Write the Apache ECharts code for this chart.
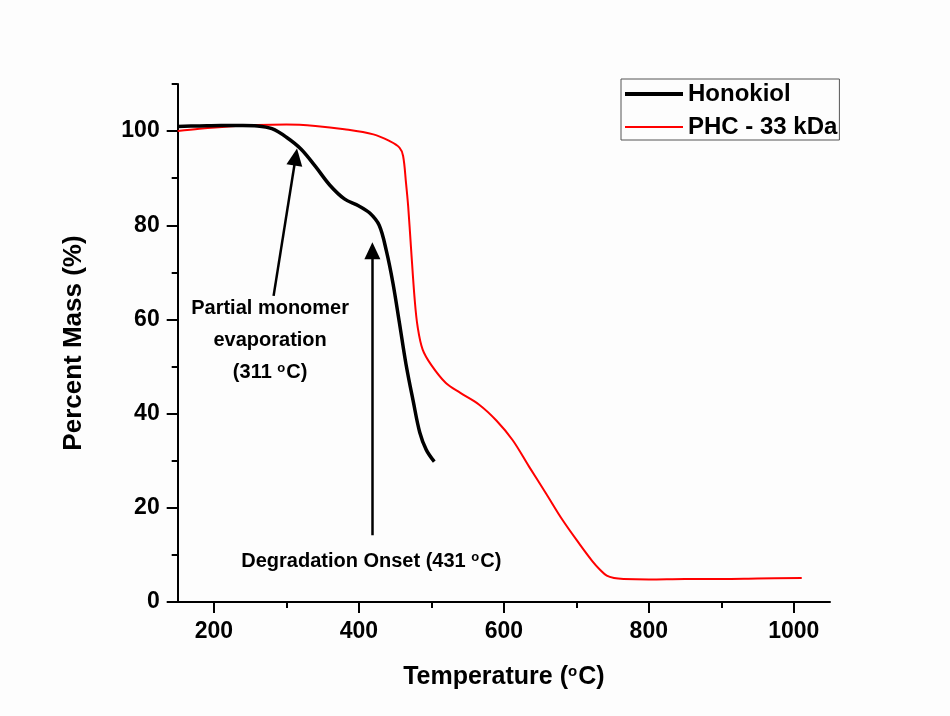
<!DOCTYPE html>
<html>
<head>
<meta charset="utf-8">
<script src="https://cdn.jsdelivr.net/npm/echarts@6/dist/echarts.min.js"></script>
<style>
html,body{margin:0;padding:0;background:#fdfdfd;}
#main{width:950px;height:716px;}
</style>
</head>
<body>
<div id="main"></div>
<script>
// ---- data ----
var honokiolT = [150,180,210,240,260,280,300,320,340,360,380,400,415,428,438,447,456,465,475,484,493,504];
var honokiolMass = [101.0,101.1,101.2,101.2,101.1,100.5,98.7,96.2,92.5,88.5,85.6,84.1,82.6,80.0,74.5,67.7,59.2,50.5,42.6,36.0,32.3,29.8];
var phcT = [150,180,220,260,300,340,380,420,442,456,461,465,468,472,477,481,488,500,520,540,566,590,612,635,658,681,704,722,733,742,752,765,800,850,900,950,1011];
var phcMass = [100.0,100.5,101.0,101.3,101.4,101.1,100.4,99.3,97.9,96.5,94.7,89.0,84.0,75.0,64.2,58.5,53.6,50.3,46.5,44.4,41.9,38.5,34.4,28.7,23.1,17.4,12.4,8.7,6.8,5.6,5.1,4.9,4.8,4.9,4.9,5.0,5.1];
var seriesNames = ['Honokiol', 'PHC - 33 kDa'];
var xMajorTicks = [200,400,600,800,1000];
var xMinorTicks = [300,500,700,900];
var yMajorTicks = [0,20,40,60,80,100];
var yMinorTicks = [10,30,50,70,90,110];
// annotations (data coordinates)
var arrow1 = [[282.3,65.0],[312.8,94.5]];
var arrow2 = [[418.6,14.2],[418.6,74.6]];
var note1Pos = [277.5,55.5];
var note2Pos = [417.1,8.5];

function zip(a,b){var r=[];for(var i=0;i<a.length;i++)r.push([a[i],b[i]]);return r;}

var FONT = '"Liberation Sans", Arial, sans-serif';
var chart = echarts.init(document.getElementById('main'), null, {renderer:'canvas'});
var gridPos = {left:177.7, right:120, top:84, bottom:114};
var supRich = {
  sup:{fontSize:13, fontWeight:'bold', fontFamily:FONT, color:'#000', padding:[0,1,9,0]}
};
var plainNum = function(v){return String(v);};

var option = {
  backgroundColor:'#fdfdfd',
  animation:false,
  grid:[Object.assign({}, gridPos), Object.assign({}, gridPos)],
  legend:{
    data:[
      {name:seriesNames[0], lineStyle:{color:'#000', width:4}},
      {name:seriesNames[1], lineStyle:{color:'#ff0000', width:2}}
    ],
    orient:'vertical',
    left:621, top:79,
    padding:[3,2,1,2],
    itemWidth:58, itemHeight:14, itemGap:9,
    itemStyle:{opacity:0, color:'rgba(0,0,0,0)', borderWidth:0},
    borderColor:'#555', borderWidth:1,
    textStyle:{fontSize:24, fontWeight:'bold', fontFamily:FONT, color:'#000'}
  },
  xAxis:[{
    type:'value', gridIndex:0, min:150, max:1050,
    name:'Temperature ({sup|o}C)', nameLocation:'middle', nameGap:62,
    nameTextStyle:{fontSize:25, fontWeight:'bold', fontFamily:FONT, color:'#000', rich:{sup:{fontSize:15,fontWeight:'bold',fontFamily:FONT,color:'#000',padding:[0,1,12,0]}}},
    axisLine:{lineStyle:{color:'#000', width:2}},
    axisTick:{inside:false, length:11, lineStyle:{color:'#000', width:2}, customValues:xMajorTicks},
    axisLabel:{customValues:xMajorTicks, formatter:plainNum, margin:18, fontSize:23, fontWeight:'bold', fontFamily:FONT, color:'#000'},
    splitLine:{show:false}
  },{
    type:'value', gridIndex:1, min:150, max:1050,
    axisLine:{show:false},
    axisTick:{inside:false, length:6, lineStyle:{color:'#000', width:2}, customValues:xMinorTicks},
    axisLabel:{show:false},
    splitLine:{show:false}
  }],
  yAxis:[{
    type:'value', gridIndex:0, min:0, max:110,
    name:'Percent Mass (%)', nameLocation:'middle', nameGap:91, nameRotate:90,
    nameTextStyle:{fontSize:26, fontWeight:'bold', fontFamily:FONT, color:'#000'},
    axisLine:{lineStyle:{color:'#000', width:2}},
    axisTick:{inside:false, length:11, lineStyle:{color:'#000', width:2}, customValues:yMajorTicks},
    axisLabel:{customValues:yMajorTicks, formatter:plainNum, margin:18, fontSize:23, fontWeight:'bold', fontFamily:FONT, color:'#000'},
    splitLine:{show:false}
  },{
    type:'value', gridIndex:1, min:0, max:110,
    axisLine:{show:false},
    axisTick:{inside:false, length:6, lineStyle:{color:'#000', width:2}, customValues:yMinorTicks},
    axisLabel:{show:false},
    splitLine:{show:false}
  }],
  series:[{
    name:seriesNames[0], type:'line', xAxisIndex:0, yAxisIndex:0,
    data:zip(honokiolT, honokiolMass),
    showSymbol:false, symbol:'none', smooth:0.35,
    lineStyle:{color:'#000', width:3.5}, itemStyle:{color:'#000'},
    z:3,
    markLine:{
      silent:true, symbol:['none','triangle'], symbolSize:[16,17],
      label:{show:false},
      lineStyle:{color:'#000', width:2.5, type:'solid'},
      itemStyle:{color:'#000'},
      data:[
        [{coord:arrow1[0]},{coord:arrow1[1]}],
        [{coord:arrow2[0]},{coord:arrow2[1]}]
      ]
    },
    markPoint:{
      silent:true, symbol:'circle', symbolSize:0,
      data:[
        {coord:note1Pos, label:{show:true, position:'inside', formatter:'Partial monomer\nevaporation\n(311 {sup|o}C)', fontSize:20, fontWeight:'bold', fontFamily:FONT, color:'#000', lineHeight:32, align:'center', rich:supRich}},
        {coord:note2Pos, label:{show:true, position:'inside', formatter:'Degradation Onset (431 {sup|o}C)', fontSize:20, fontWeight:'bold', fontFamily:FONT, color:'#000', align:'center', rich:supRich}}
      ]
    }
  },{
    name:seriesNames[1], type:'line', xAxisIndex:0, yAxisIndex:0,
    data:zip(phcT, phcMass),
    showSymbol:false, symbol:'none', smooth:0.35,
    lineStyle:{color:'#ff0000', width:2}, itemStyle:{color:'#ff0000'},
    z:2
  }]
};
chart.setOption(option);
</script>
</body>
</html>
